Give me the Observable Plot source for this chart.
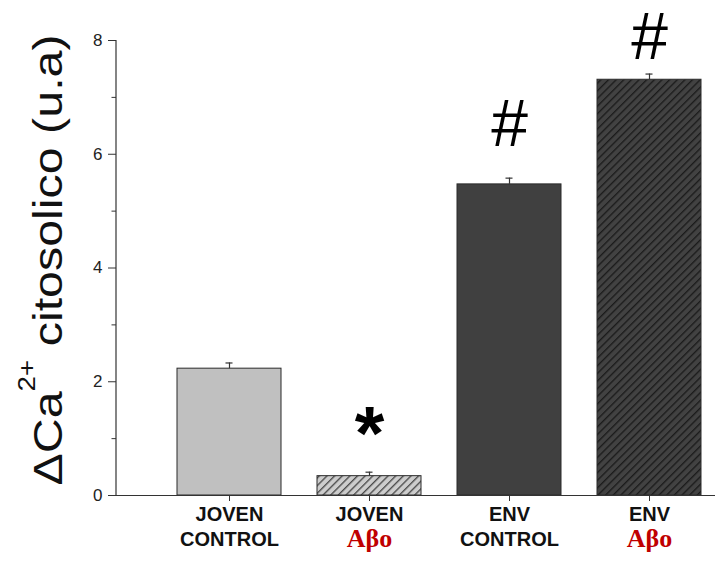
<!DOCTYPE html>
<html><head><meta charset="utf-8">
<script src="https://cdn.jsdelivr.net/npm/d3@7"></script>
<script src="https://cdn.jsdelivr.net/npm/@observablehq/plot@0.6"></script>
<style>
body{margin:0;background:#fff;}
g[aria-label="xlabel"] text{letter-spacing:2px;}
g[aria-label="xlabel-red"] text{letter-spacing:2px;}
</style>
</head><body><div id="chart"></div>
<script>
const categories = ["JOVEN CONTROL", "JOVEN Aβo", "ENV CONTROL", "ENV Aβo"];
const labelLine1 = ["JOVEN", "JOVEN", "ENV", "ENV"];
const labelLine2 = ["CONTROL", "Aβo", "CONTROL", "Aβo"];
const values = [2.23, 0.34, 5.47, 7.31];
const errors = [0.10, 0.07, 0.11, 0.10];
const markers = ["", "*", "#", "#"];
const yTicks = [0, 2, 4, 6, 8];
const yMinorTicks = [1, 3, 5, 7];

const data = categories.map((c, i) => ({
  cat: c, l1: labelLine1[i], l2: labelLine2[i],
  value: values[i], err: errors[i], marker: markers[i], i
}));

const fillStyles = ["#c0c0c0", "url(#hatchLight)", "#404040", "url(#hatchDark)"];

function extras(index, scales, vals, dims) {
  const g = d3.create("svg:g");
  const defs = g.append("defs");
  function hatch(id, bg, fg) {
    const s = 5.4;
    const p = defs.append("pattern").attr("id", id)
      .attr("patternUnits", "userSpaceOnUse")
      .attr("width", s).attr("height", s)
      .attr("patternTransform", "rotate(45)");
    p.append("rect").attr("width", s).attr("height", s).attr("fill", bg);
    p.append("line").attr("x1", 0.7).attr("y1", 0).attr("x2", 0.7).attr("y2", s)
      .attr("stroke", fg).attr("stroke-width", 1.2);
  }
  hatch("hatchLight", "#cdcdcd", "#3a3a3a");
  hatch("hatchDark", "#424242", "#161616");
  const ml = dims ? dims.marginLeft : 116;
  g.append("line")
    .attr("x1", ml).attr("x2", ml)
    .attr("y1", scales.y(8)).attr("y2", scales.y(0))
    .attr("stroke", "#333").attr("stroke-width", 1.2);
  const t = g.append("text")
    .attr("transform", "translate(62,260) rotate(-90) scale(1.21,1)")
    .attr("text-anchor", "middle")
    .attr("font-family", "Liberation Sans, Arial, sans-serif")
    .attr("font-size", 40)
    .attr("fill", "#111");
  t.append("tspan").text("ΔCa");
  t.append("tspan").attr("font-size", 23).attr("dy", -27).text("2+");
  t.append("tspan").attr("dy", 27).text("\u00a0citosolico (u.a)");
  return g.node();
}

const chart = Plot.plot({
  width: 719,
  height: 567,
  marginTop: 40,
  marginBottom: 72,
  marginLeft: 116,
  marginRight: 4,
  style: {background: "#fff", fontFamily: "Liberation Sans, Arial, sans-serif"},
  x: {domain: categories, range: [176, 702], paddingInner: 0.26, paddingOuter: 0},
  y: {domain: [0, 8]},
  color: {type: "identity"},
  marks: [
    Plot.barY(data, {x: "cat", y: "value", fill: d => fillStyles[d.i], stroke: "#2b2b2b", strokeWidth: 1}),
    Plot.ruleX(data, {x: "cat", y1: "value", y2: d => d.value + d.err, stroke: "#333", strokeWidth: 1.2}),
    Plot.tickY(data, {x: "cat", y: d => d.value + d.err, stroke: "#333", strokeWidth: 1.2, insetLeft: 48.5, insetRight: 48.5}),
    Plot.ruleY([0], {stroke: "#333", strokeWidth: 1.2}),
    Plot.axisY({ticks: yTicks, tickSize: 8, tickPadding: 6, fontSize: 17, label: null, stroke: "#333", color: "#222"}),
    Plot.axisY({ticks: yMinorTicks, tickSize: 4.5, tickFormat: () => "", label: null, stroke: "#333"}),
    Plot.axisX({tickSize: 6, tickFormat: () => "", label: null, stroke: "#333"}),
    Plot.text(data, {x: "cat", text: "l1", frameAnchor: "bottom", dy: 25, fontSize: 20, fontWeight: "bold", fill: "#111", ariaLabel: "xlabel"}),
    Plot.text(data.filter(d => d.l2 !== "Aβo"), {x: "cat", text: "l2", frameAnchor: "bottom", dy: 50, fontSize: 20, fontWeight: "bold", fill: "#111", ariaLabel: "xlabel"}),
    Plot.text(data.filter(d => d.l2 === "Aβo"), {x: "cat", text: "l2", frameAnchor: "bottom", dy: 51, fontSize: 26, fontWeight: "bold", fill: "#c00000", fontFamily: "Liberation Serif, Times New Roman, serif", ariaLabel: "xlabel-red"}),
    Plot.text(data.filter(d => d.marker === "*"), {x: "cat", y: d => d.value + d.err, text: "marker", dy: -38, fontSize: 76, fontWeight: "bold", fill: "#000"}),
    Plot.text(data.filter(d => d.marker === "#" && d.i === 2), {x: "cat", y: d => d.value + d.err, text: "marker", dy: -53, fontSize: 66, fill: "#000"}),
    Plot.text(data.filter(d => d.marker === "#" && d.i === 3), {x: "cat", y: d => d.value + d.err, text: "marker", dy: -36, fontSize: 66, fill: "#000"}),
    extras
  ]
});
document.getElementById("chart").appendChild(chart);
</script>
</body></html>
